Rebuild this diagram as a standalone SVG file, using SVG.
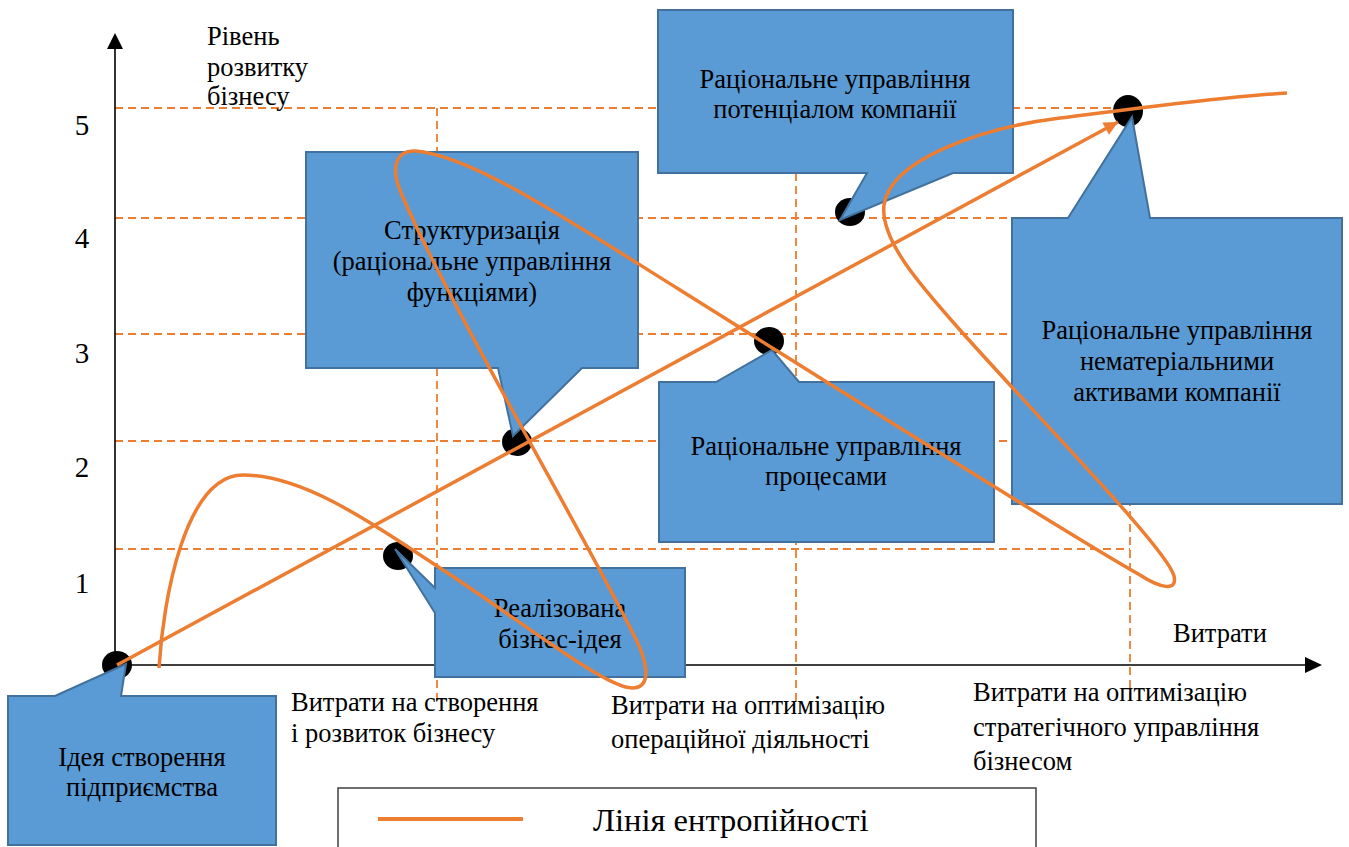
<svg xmlns="http://www.w3.org/2000/svg" width="1349" height="847" viewBox="0 0 1349 847">
<style>
.t{font-family:"Liberation Serif","DejaVu Serif Condensed","DejaVu Serif",serif;font-size:26.5px;fill:#000}
.c{text-anchor:middle}
.lg{font-size:32.5px}
.num{font-family:"Liberation Serif","DejaVu Serif",serif;font-size:29px;text-anchor:middle;fill:#000}
.dash{stroke:#ED7D31;stroke-width:1.8;stroke-dasharray:8 5;fill:none}
.ax{stroke:#000;stroke-width:1.6;fill:none}
.co{fill:#5B9BD5;stroke:#41719C;stroke-width:2}
.dot{fill:#000}
.or{stroke:#ED7D31;stroke-width:3.5;fill:none}
</style>
<defs>
<marker id="ah" viewBox="0 0 10 10" refX="10" refY="5" markerWidth="17" markerHeight="14" markerUnits="userSpaceOnUse" orient="auto"><path d="M0,0 L10,5 L0,10 z" fill="#ED7D31"/></marker>
</defs>
<rect width="1349" height="847" fill="#fff"/>
<g id="grid">
<path class="dash" d="M115,108 H1128 M115,218 H1130 M115,334 H1130 M115,441 H1130 M115,549 H1130 M437,108 V705 M796,108 V705 M1130,108 V705"/>
</g>
<g id="axes">
<path class="ax" d="M115,665 V46 M115,665 H1307"/>
<path d="M107,49 L115,33 L123,49 z" fill="#000"/>
<path d="M1305,657 L1322,665 L1305,673 z" fill="#000"/>
<text class="t" x="207" y="45">Рівень</text>
<text class="t" x="207" y="76">розвитку</text>
<text class="t" x="207" y="105">бізнесу</text>
<text class="num" x="82" y="135">5</text>
<text class="num" x="82" y="248">4</text>
<text class="num" x="82" y="363">3</text>
<text class="num" x="82" y="477">2</text>
<text class="num" x="82" y="593">1</text>
<text class="t" x="1173" y="642">Витрати</text>
<text class="t" x="291" y="711">Витрати на створення</text>
<text class="t" x="291" y="742">і розвиток бізнесу</text>
<text class="t" x="611" y="714">Витрати на оптимізацію</text>
<text class="t" x="611" y="748">операційної діяльності</text>
<text class="t" x="973" y="701">Витрати на оптимізацію</text>
<text class="t" x="973" y="736">стратегічного управління</text>
<text class="t" x="973" y="770">бізнесом</text>
</g>
<g id="dots">
<ellipse class="dot" cx="117" cy="665" rx="15" ry="14"/>
<ellipse class="dot" cx="398" cy="556" rx="15" ry="14"/>
<ellipse class="dot" cx="517" cy="442" rx="15" ry="14"/>
<ellipse class="dot" cx="769" cy="341" rx="15" ry="14"/>
<ellipse class="dot" cx="850" cy="212" rx="15" ry="14"/>
<ellipse class="dot" cx="1128" cy="111" rx="15" ry="16"/>
</g>
<g id="idea">
<path class="co" d="M8,696 H55 L126,664 L121,696 H276 V845 H8 z"/>
<text class="t c" x="142" y="766">Ідея створення</text>
<text class="t c" x="142" y="796">підприємства</text>
</g>
<g id="realized">
<path class="co" d="M435,568 H685 V677 H435 V613 L395,549 L435,588 z"/>
<text class="t c" x="560" y="617">Реалізована</text>
<text class="t c" x="560" y="648">бізнес-ідея</text>
</g>
<g id="structuring">
<path class="co" d="M306,152 H638 V368 H582 L513,436 L498,368 H306 z"/>
<text class="t c" x="472" y="239">Структуризація</text>
<text class="t c" x="472" y="270">(раціональне управління</text>
<text class="t c" x="472" y="301">функціями)</text>
</g>
<g id="processes">
<path class="co" d="M659,382 H716 L772,350 L799,382 H994 V542 H659 z"/>
<text class="t c" x="826" y="455">Раціональне управління</text>
<text class="t c" x="826" y="485">процесами</text>
</g>
<g id="potential">
<path class="co" d="M658,10 H1013 V173 H953 L840,220 L867,173 H658 z"/>
<text class="t c" x="835" y="88">Раціональне управління</text>
<text class="t c" x="835" y="118">потенціалом компанії</text>
</g>
<g id="intangible">
<path class="co" d="M1012,218 H1068 L1132,117 L1150,218 H1342 V504 H1012 z"/>
<text class="t c" x="1177" y="339">Раціональне управління</text>
<text class="t c" x="1177" y="370">нематеріальними</text>
<text class="t c" x="1177" y="401">активами компанії</text>
</g>
<g id="connectors">
<path class="or" d="M117,665 L1118,122" marker-end="url(#ah)"/>
<path class="or" d="M159,668 C163,600 185,475 243,475 C300,475 360,515 440,568 C520,620 605,688 632,688 C650,688 648,668 640,648 C610,580 440,290 400,190 C390,165 398,150 415,151 C470,155 560,215 680,290 C800,365 1060,530 1140,575 C1160,588 1178,592 1174,576 C1168,550 1040,420 960,330 C920,285 880,240 884,205 C890,160 980,128 1060,118 C1140,108 1220,97 1287,93"/>
</g>
<g id="legend">
<rect x="338" y="788" width="698" height="70" fill="#fff" stroke="#404040" stroke-width="1.5"/>
<path d="M378,819 H523" stroke="#ED7D31" stroke-width="4"/>
<text class="t lg" x="593" y="831">Лінія ентропійності</text>
</g>
</svg>
